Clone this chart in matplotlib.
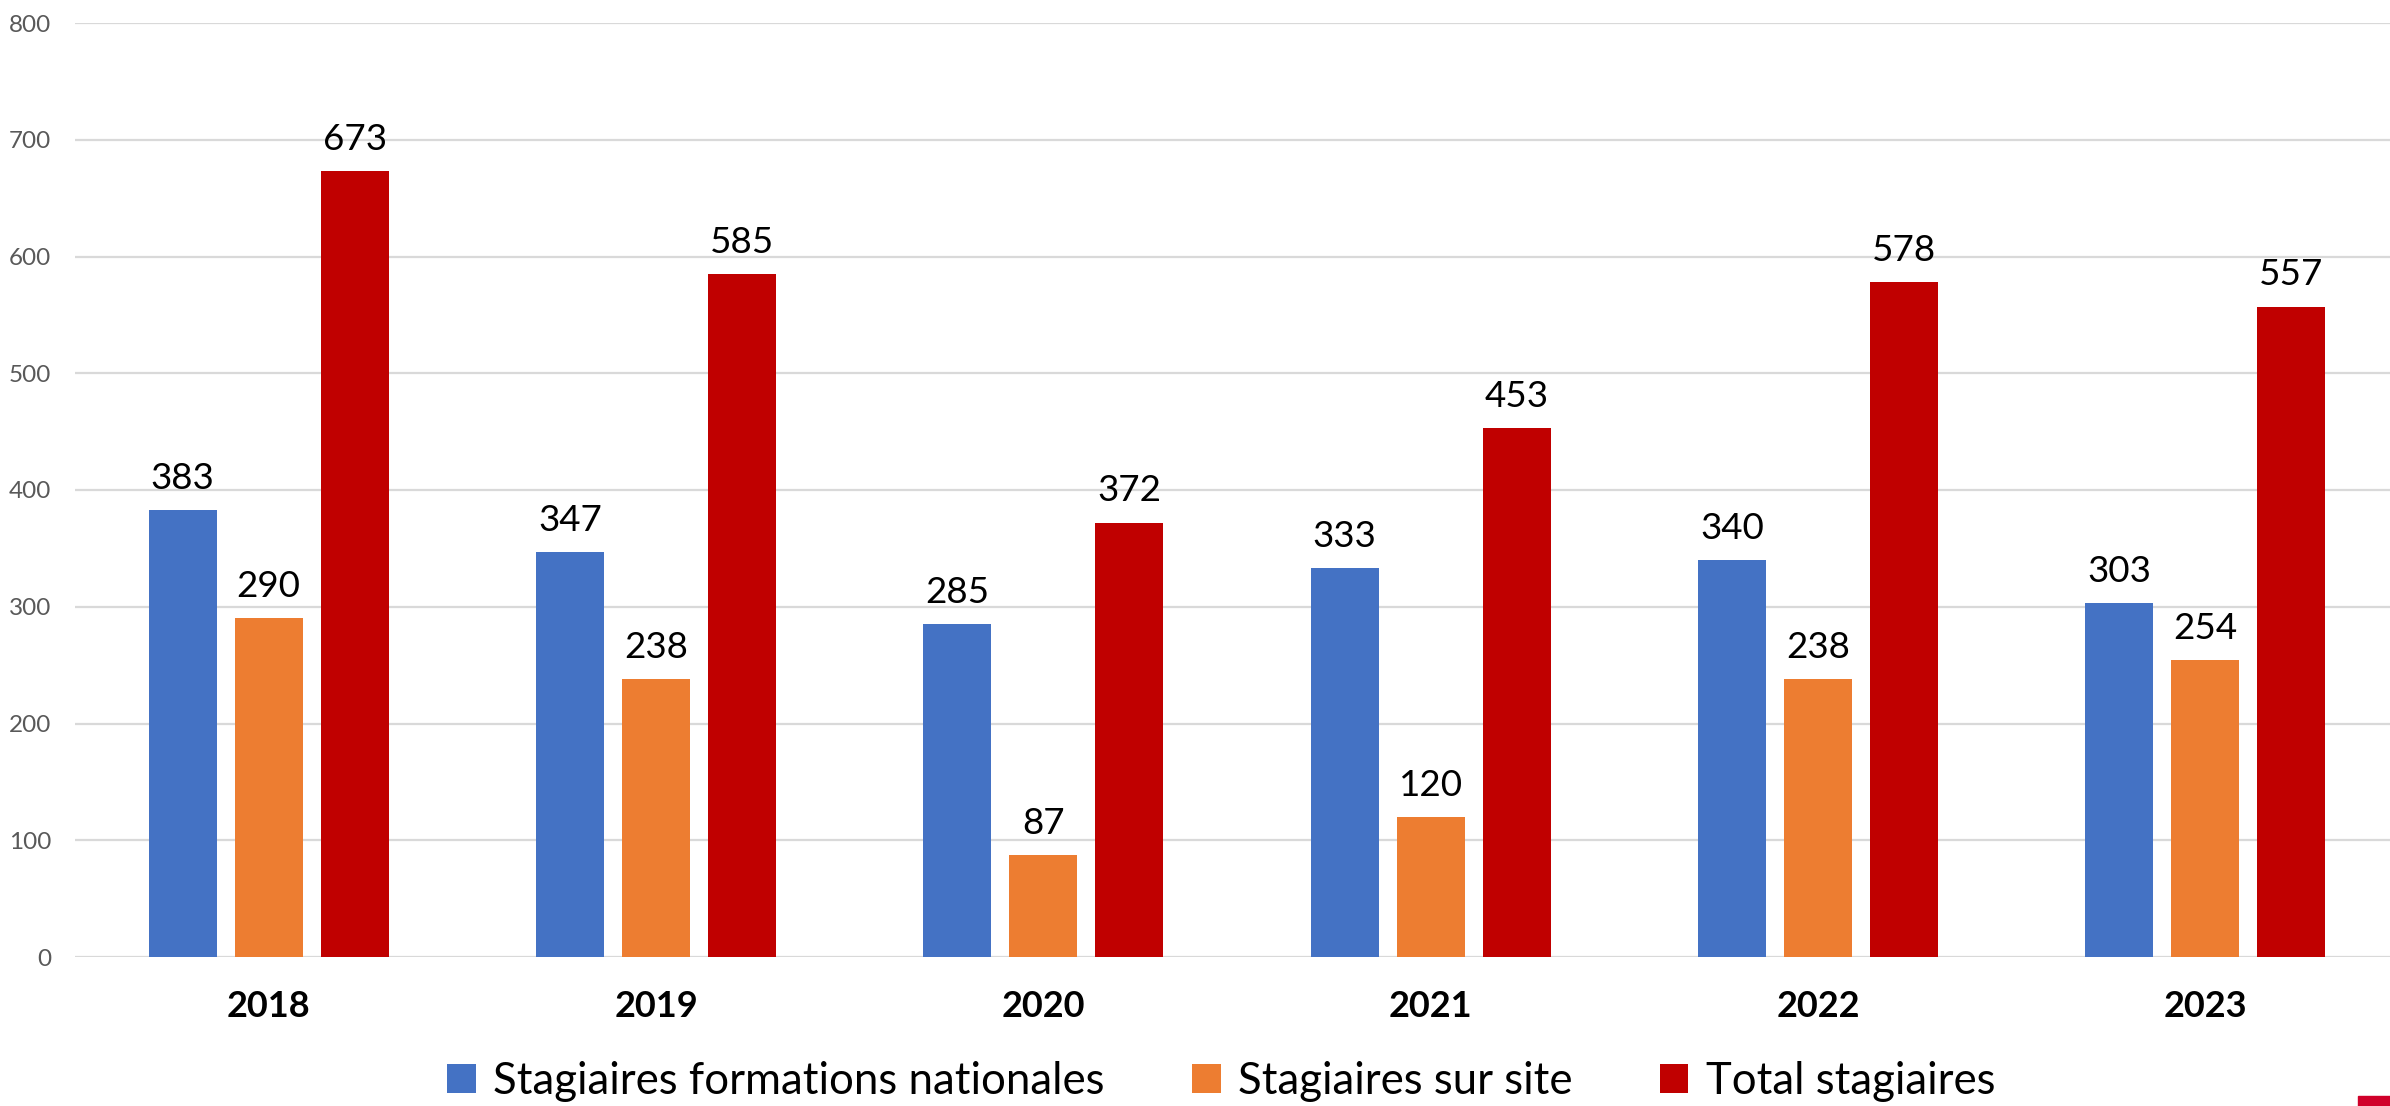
import matplotlib
matplotlib.use('Agg')
from matplotlib import pyplot as plt
from matplotlib.patches import Rectangle
import numpy as np

# =============================================================================
# Data
# =============================================================================
years = ['2018', '2019', '2020', '2021', '2022', '2023']
nationales = [383, 347, 285, 333, 340, 303]
sur_site = [290, 238, 87, 120, 238, 254]
total = [673, 585, 372, 453, 578, 557]

labels = ['Stagiaires formations nationales', 'Stagiaires sur site', 'Total stagiaires']
colors = ['#4472C4', '#ED7D31', '#C00000']

plt.rcParams['font.family'] = ['Lato', 'DejaVu Sans']

fig = plt.figure(figsize=(23.9, 11.06), dpi=100)
ax = fig.add_axes([75/2390, 1-957/1106, 2324/2390, (957-23)/1106])

x = np.arange(len(years))
width = 0.1755
step = 0.222
series = [nationales, sur_site, total]
for i, (vals, lab, col) in enumerate(zip(series, labels, colors)):
    bars = ax.bar(x + (i-1)*step, vals, width, color=col, label=lab, zorder=3)
    for b, v in zip(bars, vals):
        ax.annotate(str(v), (b.get_x()+b.get_width()/2, v), xytext=(0, 11),
                    textcoords='offset points', ha='center', va='bottom',
                    fontsize=26.5, color='black')

ax.set_xlim(-0.5, len(years)-0.5)
ax.set_ylim(0, 800)
ax.set_yticks(range(0, 801, 100))
ax.grid(axis='y', color='#D9D9D9', linewidth=1.6, zorder=0)
for s in ax.spines.values():
    s.set_visible(False)
ax.tick_params(axis='y', length=0, pad=17, labelsize=17.5, labelcolor='#595959')
ax.tick_params(axis='x', length=0, pad=24)
ax.set_xticks(x)
ax.set_xticklabels(years, fontsize=26, fontweight='bold')

fig.legend(loc='center', bbox_to_anchor=(0.511, 0.022), ncol=3, frameon=False,
           fontsize=31.5, handlelength=0.65, handleheight=0.65, handletextpad=0.4,
           columnspacing=2.0)

# small red mark in the corner
fig.patches.append(Rectangle((2358/2390, 0), 32/2390, 10/1106,
                             transform=fig.transFigure, color='#D0002A'))

plt.savefig('out.png', dpi=100)
